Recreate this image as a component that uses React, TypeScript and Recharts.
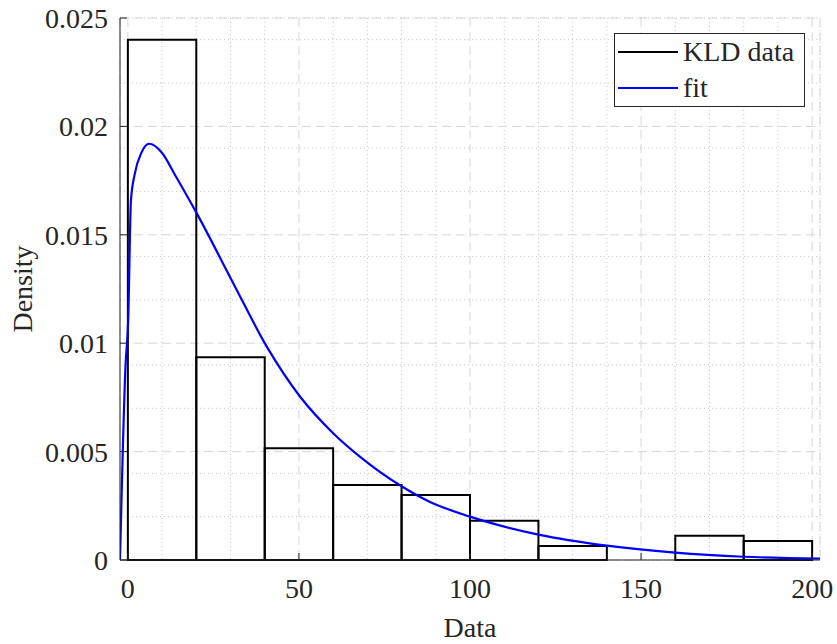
import React from 'react';
import {
  ComposedChart,
  Line,
  XAxis,
  YAxis,
  CartesianGrid,
  ReferenceArea,
  Legend,
} from 'recharts';

// histogram bins (edges) and their density
const binStarts = [0, 20, 40, 60, 80, 100, 120, 140, 160, 180];
const binEnds = [20, 40, 60, 80, 100, 120, 140, 160, 180, 200];
const binDensity = [0.024, 0.00935, 0.00515, 0.00346, 0.003, 0.00181, 0.00065, 0, 0.00112, 0.00088];

// fitted pdf
const fitX = [-2.3, -0.7, 0.1, 0.9, 2.0, 4.0, 6.2, 9.9, 14, 20.1, 30.8, 40.6, 50.3, 60, 67.8, 80, 88, 100, 120, 140, 160, 180, 202.3];
const fitY = [0, 0.0089, 0.0111, 0.0166, 0.0178, 0.0188, 0.0192, 0.0188, 0.0177, 0.016, 0.01277, 0.00984, 0.00754, 0.00585, 0.00477, 0.0034, 0.0027, 0.002, 0.00117, 0.00066, 0.00034, 0.00015, 0.00006];

const xTicks = [0, 50, 100, 150, 200];
const yTicks = [0, 0.005, 0.01, 0.015, 0.02, 0.025];
const xMinor = [10, 20, 30, 40, 60, 70, 80, 90, 110, 120, 130, 140, 160, 170, 180, 190];
const yMinor = [
  0.001, 0.002, 0.003, 0.004, 0.006, 0.007, 0.008, 0.009, 0.011, 0.012, 0.013, 0.014,
  0.016, 0.017, 0.018, 0.019, 0.021, 0.022, 0.023, 0.024,
];

const legendItems = [
  { name: 'KLD data', color: '#000000' },
  { name: 'fit', color: '#0000ff' },
];

const data = fitX.map((x, i) => ({ x, y: fitY[i] }));

const FONT = 'Liberation Serif';
const AXIS = '#262626';
const X_DOMAIN: [number, number] = [-2.3, 202.3];
const Y_DOMAIN: [number, number] = [0, 0.025];

const YTitle = () => (
  <text x={22} y={289} transform="rotate(-90 22 289)" textAnchor="middle" dominantBaseline="central"
    fill={AXIS} fontSize={28} fontFamily={FONT}>
    Density
  </text>
);

const XTitle = () => (
  <text x={470} y={637} textAnchor="middle" fill={AXIS} fontSize={28} fontFamily={FONT}>
    Data
  </text>
);

const LegendBox = () => (
  <div style={{
    width: 189, height: 72, border: `1px solid ${AXIS}`, background: '#fff',
    fontFamily: FONT, fontSize: 28, color: AXIS,
  }}>
    {legendItems.map((item) => (
      <div key={item.name} style={{ display: 'flex', alignItems: 'center', height: 36, lineHeight: '36px', fontFamily: FONT }}>
        <span style={{ display: 'inline-block', width: 60, height: 2, background: item.color, marginLeft: 3, marginRight: 5 }} />
        <span>{item.name}</span>
      </div>
    ))}
  </div>
);

export default function App() {
  const tickStyle = { fill: AXIS, fontSize: 28, fontFamily: FONT };
  return (
    <div style={{ position: 'absolute', left: 0, top: 0, background: '#fff', fontFamily: FONT }}>
      <ComposedChart width={837} height={644} data={data} style={{ fontFamily: FONT }}
        margin={{ top: 18, right: 17, bottom: 0, left: 0 }}>
        {/* minor grid, dotted */}
        <CartesianGrid xAxisId="minor" yAxisId="minor" stroke="#c8c8c8" strokeDasharray="1 3" />
        {/* major grid, dashed */}
        <CartesianGrid stroke="#d6d6d6" strokeDasharray="9 5" />
        {binStarts.map((s, i) => (
          <ReferenceArea key={`bin-${i}`} x1={s} x2={binEnds[i]} y1={0} y2={binDensity[i]}
            fill="none" stroke="#000" strokeWidth={2} ifOverflow="visible" />
        ))}
        <Line dataKey="y" type="monotone" stroke="#0000ff" strokeWidth={2.2} dot={false}
          isAnimationActive={false} />
        <XAxis xAxisId="minor" type="number" dataKey="x" domain={X_DOMAIN} ticks={xMinor}
          allowDataOverflow hide />
        <YAxis yAxisId="minor" type="number" domain={Y_DOMAIN} ticks={yMinor} allowDataOverflow hide />
        <XAxis dataKey="x" type="number" domain={X_DOMAIN} ticks={xTicks} allowDataOverflow
          height={84} stroke={AXIS} tickSize={-7} tickMargin={25} tick={tickStyle}
          label={<XTitle />} />
        <XAxis xAxisId="top" orientation="top" type="number" domain={X_DOMAIN} ticks={xTicks}
          allowDataOverflow height={0} stroke={AXIS} tickSize={-7} tick={false} />
        <YAxis type="number" domain={Y_DOMAIN} ticks={yTicks} width={120} stroke={AXIS}
          tickSize={-7} tickMargin={19} tick={tickStyle} tickFormatter={(v: number) => String(v)}
          label={<YTitle />} />
        <YAxis yAxisId="right" orientation="right" type="number" domain={Y_DOMAIN} ticks={yTicks}
          width={0} stroke={AXIS} tickSize={-7} tick={false} />
        <Legend layout="horizontal" verticalAlign="middle" align="center"
          wrapperStyle={{ left: 614, top: 33, width: 'auto' }} content={<LegendBox />} />
      </ComposedChart>
    </div>
  );
}
